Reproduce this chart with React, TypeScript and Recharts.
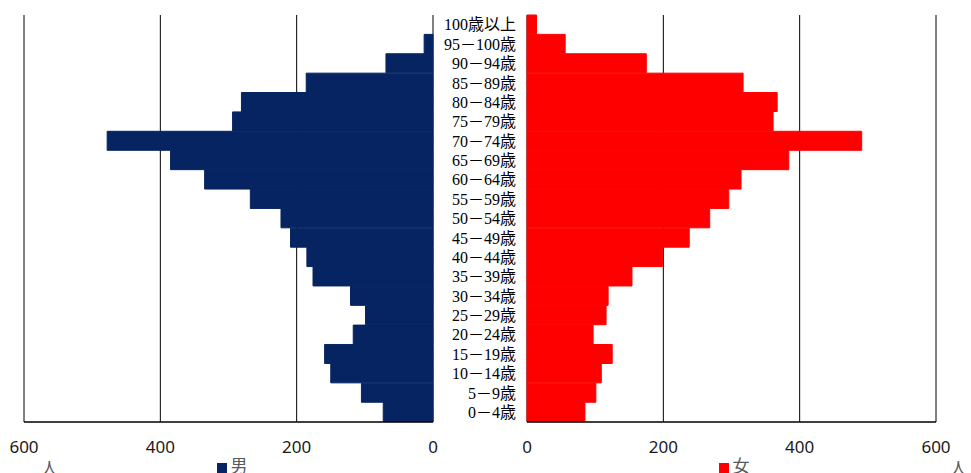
import React from "react";
import {
  BarChart,
  Bar,
  XAxis,
  YAxis,
  CartesianGrid,
  Legend,
} from "recharts";

const ages = [
  "100歳以上",
  "95－100歳",
  "90－94歳",
  "85－89歳",
  "80－84歳",
  "75－79歳",
  "70－74歳",
  "65－69歳",
  "60－64歳",
  "55－59歳",
  "50－54歳",
  "45－49歳",
  "40－44歳",
  "35－39歳",
  "30－34歳",
  "25－29歳",
  "20－24歳",
  "15－19歳",
  "10－14歳",
  "5－9歳",
  "0－4歳",
];

const male = [0, 13, 69, 186, 281, 294, 478, 385, 335, 268, 223, 209, 185, 176, 121, 99, 117, 159, 150, 105, 73];
const female = [14, 56, 175, 317, 367, 361, 491, 384, 314, 296, 268, 238, 199, 154, 119, 116, 97, 125, 109, 101, 85];

const xTicks = [0, 200, 400, 600];

const data = ages.map((age, i) => ({ age, male: male[i], female: female[i] }));

const NAVY = "#062461";
const RED = "#ff0000";
const tickStyle = { fontFamily: "'Noto Sans', sans-serif", fontSize: 17, fill: "#1a1a1a" };
const labelFont = "'Liberation Serif', 'Noto Sans CJK JP', serif";

const legendText = (value: string) => (
  <span style={{ color: "#595959", fontSize: 17, fontFamily: "'Noto Sans CJK JP', sans-serif" }}>{value}</span>
);

export default function App() {
  return (
    <div style={{ position: "absolute", left: 0, top: 0, width: 971, height: 473, background: "#fff", overflow: "hidden" }}>
      <div style={{ position: "absolute", left: 0, top: 0 }}>
        {/* extra 8px on the right so the "0" tick is not clipped */}
        <BarChart
          width={441}
          height={473}
          data={data}
          layout="vertical"
          barCategoryGap={0}
          margin={{ top: 15, right: 8, left: 24, bottom: 21 }}
        >
          <CartesianGrid horizontal={false} stroke="#000" strokeOpacity={1} />
          <XAxis
            type="number"
            domain={[0, 600]}
            ticks={xTicks}
            reversed
            height={30}
            tickLine={false}
            tickSize={0}
            tickMargin={19}
            axisLine={{ stroke: "#000", strokeWidth: 1.5 }}
            tick={tickStyle}
            interval={0}
          />
          <YAxis type="category" dataKey="age" hide />
          <Legend
            verticalAlign="middle"
            iconType="square"
            iconSize={10}
            formatter={legendText}
            wrapperStyle={{ top: 455, left: 207, width: 60, height: 20, lineHeight: "20px" }}
          />
          <Bar dataKey="male" name="男" fill={NAVY} stroke={NAVY} strokeWidth={1} isAnimationActive={false} />
        </BarChart>
      </div>
      <div style={{ position: "absolute", left: 433, top: 0 }}>
        <BarChart
          width={538}
          height={473}
          data={data}
          layout="vertical"
          barCategoryGap={0}
          margin={{ top: 15, right: 35, left: 0, bottom: 21 }}
        >
          <CartesianGrid horizontal={false} stroke="#000" strokeOpacity={1} />
          <XAxis
            type="number"
            domain={[0, 600]}
            ticks={xTicks}
            height={30}
            tickLine={false}
            tickSize={0}
            tickMargin={19}
            axisLine={{ stroke: "#000", strokeWidth: 1.5 }}
            tick={tickStyle}
            interval={0}
          />
          <YAxis
            type="category"
            dataKey="age"
            width={94}
            tickLine={false}
            axisLine={false}
            tickSize={0}
            tickMargin={11}
            interval={0}
            tick={{ fontFamily: labelFont, fontSize: 16, fill: "#000" }}
          />
          <Legend
            verticalAlign="middle"
            iconType="square"
            iconSize={10}
            formatter={legendText}
            wrapperStyle={{ top: 455, left: 276, width: 60, height: 20, lineHeight: "20px" }}
          />
          <Bar dataKey="female" name="女" fill={RED} stroke={RED} strokeWidth={1} isAnimationActive={false} />
        </BarChart>
      </div>
      <div style={{ position: "absolute", left: 41, top: 455, fontSize: 17, color: "#595959", fontFamily: "'Noto Sans CJK JP', sans-serif" }}>人</div>
      <div style={{ position: "absolute", left: 950, top: 455, fontSize: 17, color: "#595959", fontFamily: "'Noto Sans CJK JP', sans-serif" }}>人</div>
    </div>
  );
}
